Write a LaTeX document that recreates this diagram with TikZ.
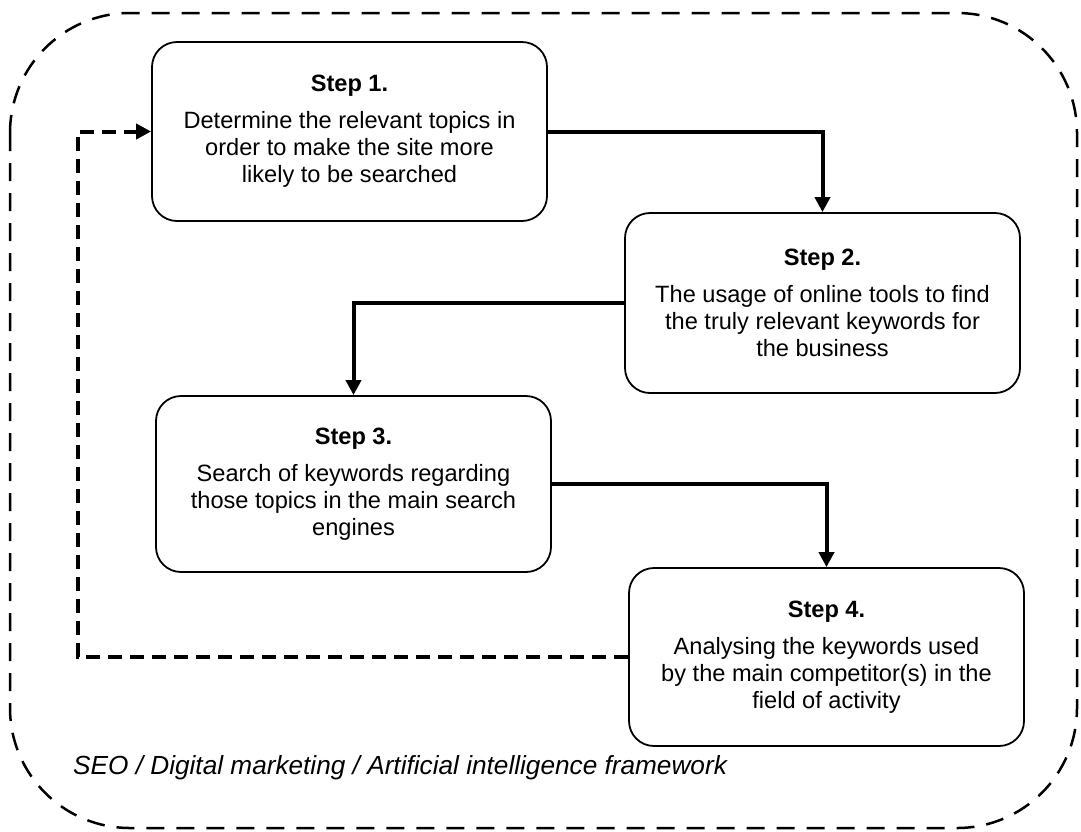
\documentclass[tikz,border=0pt]{standalone}
\usepackage{fontspec}
\setmainfont{Liberation Sans}
\usetikzlibrary{arrows.meta}
\begin{document}
\begin{tikzpicture}[x=1pt,y=-1pt,
  stepbox/.style={draw, line width=1.8pt, rounded corners=25pt, align=center, inner sep=0pt,
    font=\fontsize{23.6}{27}\selectfont},
  flow/.style={line width=4pt, -{Triangle[length=15pt,width=15pt]}},
  back/.style={line width=4pt, dash pattern=on 14pt off 8pt, -{Triangle[length=15pt,width=15pt]}},
  frame/.style={line width=2.5pt, dash pattern=on 18pt off 12pt, rounded corners=120pt},
  caption/.style={font=\fontsize{26.2}{30}\selectfont\itshape, anchor=west, inner sep=0pt}]
\useasboundingbox (0,0) rectangle (1081,831);
\draw[frame] (10,13) rectangle (1077,828);
\node[stepbox, minimum width=395pt, minimum height=179pt] (s1) at (349.5,131.5)
  {\textbf{Step 1.}\\[10pt]Determine the relevant topics in\\order to make the site more\\likely to be searched};
\node[stepbox, minimum width=395pt, minimum height=180pt] (s2) at (822.5,303)
  {\textbf{Step 2.}\\[10pt]The usage of online tools to find\\the truly relevant keywords for\\the business};
\node[stepbox, minimum width=395pt, minimum height=176pt] (s3) at (353.5,484)
  {\textbf{Step 3.}\\[10pt]Search of keywords regarding\\those topics in the main search\\engines};
\node[stepbox, minimum width=395pt, minimum height=178pt] (s4) at (826.5,657)
  {\textbf{Step 4.}\\[10pt]Analysing the keywords used\\by the main competitor(s) in the\\field of activity};
\node[caption] (cap) at (73,768) {SEO / Digital marketing / Artificial intelligence framework};
\coordinate (fb) at (78,0);
\draw[flow] (s1.east) -| (s2.north);
\draw[flow] (s2.west) -| (s3.north);
\draw[flow] (s3.east) -| (s4.north);
\draw[back] (s4.west) -- (s4.west -| fb) |- (s1.west);
\end{tikzpicture}
\end{document}
